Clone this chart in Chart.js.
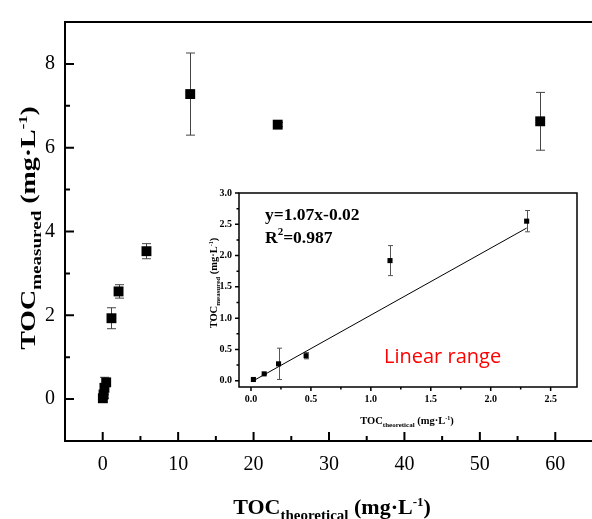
<!DOCTYPE html>
<html>
<head>
<meta charset="utf-8">
<script src="https://cdn.jsdelivr.net/npm/chart.js@4.4.1/dist/chart.umd.min.js"></script>
<style>
html,body{margin:0;padding:0;background:#fff;overflow:hidden;width:592px;height:519px;}
#wrap{position:relative;width:592px;height:519px;}
#main{position:absolute;left:0;top:0;}
#inset{position:absolute;left:200px;top:180px;}
</style>
</head>
<body>
<div id="wrap">
<canvas id="main" width="600" height="519"></canvas>
<canvas id="inset" width="392" height="255"></canvas>
</div>
<script>
var SERIF='"Liberation Serif","Times New Roman",serif';
// main plot
var mainX=[0.02,0.11,0.23,0.46,1.16,2.1,5.8,11.6,23.2,58];
var mainY=[0.02,0.11,0.27,0.40,1.93,2.57,3.53,7.28,6.55,6.63];
var mainErr=[0.01,0.01,0.25,0.05,0.25,0.16,0.18,0.98,0.05,0.69];
var mainXTicks=[0,10,20,30,40,50,60];
var mainYTicks=[0,2,4,6,8];
// inset (linear range)
var insetX=[0.02,0.11,0.23,0.46,1.16,2.3];
var insetY=[0.02,0.11,0.27,0.40,1.92,2.55];
var insetErr=[0.01,0.01,0.25,0.05,0.24,0.17];
var fitX=[0.02,2.3];
var fitY=[0.0,2.44];
var insetXTicks=[0,0.5,1.0,1.5,2.0,2.5];
var insetYTicks=[0,0.5,1.0,1.5,2.0,2.5,3.0];

function pts(xs,ys){
	var out=[];
	for(var i=0;i<xs.length;i++){out.push({x:xs[i],y:ys[i]});}
	return out;
}
function setTicks(list){
	return function(scale){scale.ticks=list.map(function(v){return {value:v};});};
}
function richText(ctx,parts,x,y){
	var w=0;
	parts.forEach(function(p){
		ctx.font='bold '+p.size+'px '+SERIF;
		p.w=ctx.measureText(p.t).width;
		w+=p.w;
	});
	var cx=x-w/2;
	ctx.textAlign='left';
	ctx.textBaseline='alphabetic';
	parts.forEach(function(p){
		ctx.font='bold '+p.size+'px '+SERIF;
		ctx.fillText(p.t,cx,y+(p.dy||0));
		cx+=p.w;
	});
}
function titleParts(sub,big,small,sup){
	return [
		{t:'TOC',size:big},
		{t:sub,size:small,dy:big*0.25},
		{t:' (mg\u00B7L',size:big},
		{t:'-1',size:sup,dy:-big*0.38},
		{t:')',size:big}
	];
}

// error bars + axes drawn through the chart scales
function errorPlugin(xs,ys,errs,cap,color){
	return {
		id:'errbars',
		beforeDatasetsDraw:function(chart){
			var ctx=chart.ctx,sx=chart.scales.x,sy=chart.scales.y;
			ctx.save();
			ctx.strokeStyle=color;
			ctx.lineWidth=1;
			for(var i=0;i<xs.length;i++){
				var px=Math.round(sx.getPixelForValue(xs[i]))+0.5;
				var top=sy.getPixelForValue(ys[i]+errs[i]);
				var bot=sy.getPixelForValue(ys[i]-errs[i]);
				ctx.beginPath();
				ctx.moveTo(px,top);ctx.lineTo(px,bot);
				ctx.moveTo(px-cap,top);ctx.lineTo(px+cap,top);
				ctx.moveTo(px-cap,bot);ctx.lineTo(px+cap,bot);
				ctx.stroke();
			}
			ctx.restore();
		}
	};
}

var mainFrame={
	id:'mainFrame',
	afterDraw:function(chart){
		var ctx=chart.ctx,a=chart.chartArea,sx=chart.scales.x,sy=chart.scales.y;
		ctx.save();
		ctx.strokeStyle='#000';
		ctx.lineWidth=2;
		ctx.strokeRect(a.left,a.top,a.right-a.left,a.bottom-a.top);
		ctx.beginPath();
		mainXTicks.forEach(function(v){
			var p=sx.getPixelForValue(v);
			ctx.moveTo(p,a.bottom);ctx.lineTo(p,a.bottom-9);
			var m=sx.getPixelForValue(v+5);
			if(m<a.right){ctx.moveTo(m,a.bottom);ctx.lineTo(m,a.bottom-5);}
		});
		mainYTicks.forEach(function(v){
			var p=sy.getPixelForValue(v);
			ctx.moveTo(a.left,p);ctx.lineTo(a.left+9,p);
			var m=sy.getPixelForValue(v+1);
			ctx.moveTo(a.left,m);ctx.lineTo(a.left+5,m);
		});
		ctx.stroke();
		ctx.fillStyle='#000';
		richText(ctx,titleParts('theoretical',22,15,13),332,514);
		ctx.translate(35,228);
		ctx.rotate(-Math.PI/2);
		ctx.scale(1.27,1);
		richText(ctx,titleParts('measured',22,15,13),0,0);
		ctx.restore();
	}
};

var insetFrame={
	id:'insetFrame',
	afterDraw:function(chart){
		var ctx=chart.ctx,a=chart.chartArea,sx=chart.scales.x,sy=chart.scales.y;
		ctx.save();
		ctx.strokeStyle='#000';
		ctx.lineWidth=1.5;
		ctx.strokeRect(a.left,a.top,a.right-a.left,a.bottom-a.top);
		ctx.beginPath();
		insetXTicks.forEach(function(v){
			var p=sx.getPixelForValue(v);
			ctx.moveTo(p,a.bottom);ctx.lineTo(p,a.bottom+4);
			var m=sx.getPixelForValue(v+0.25);
			if(m<a.right){ctx.moveTo(m,a.bottom);ctx.lineTo(m,a.bottom+2.5);}
		});
		insetYTicks.forEach(function(v){
			var p=sy.getPixelForValue(v);
			ctx.moveTo(a.left,p);ctx.lineTo(a.left-4,p);
			var m=sy.getPixelForValue(v+0.25);
			if(m>a.top){ctx.moveTo(a.left,m);ctx.lineTo(a.left-2.5,m);}
		});
		ctx.stroke();
		ctx.fillStyle='#000';
		ctx.textAlign='left';
		ctx.font='bold 17.5px '+SERIF;
		ctx.fillText('y=1.07x-0.02',65,40);
		ctx.fillText('R',65,63);
		var rw=ctx.measureText('R').width;
		ctx.font='bold 11px '+SERIF;
		ctx.fillText('2',65+rw,55);
		var tw=ctx.measureText('2').width;
		ctx.font='bold 17.5px '+SERIF;
		ctx.fillText('=0.987',65+rw+tw,63);
		ctx.fillStyle='#ff0000';
		ctx.font='20px "Open Sans","Liberation Sans",sans-serif';
		ctx.fillText('Linear range',184,183);
		ctx.fillStyle='#000';
		richText(ctx,titleParts('theoretical',10.5,7,6),207,244);
		ctx.translate(17,103);
		ctx.rotate(-Math.PI/2);
		richText(ctx,titleParts('measured',10.5,7,6),0,0);
		ctx.restore();
	}
};

new Chart("main",{
	type:"scatter",
	data:{datasets:[{
		data:pts(mainX,mainY),
		pointStyle:"rect",
		pointRadius:7,
		backgroundColor:"#000",
		borderWidth:0
	}]},
	options:{
		responsive:false,
		animation:false,
		layout:{padding:{top:15,right:4,left:0,bottom:0}},
		plugins:{legend:{display:false},tooltip:{enabled:false}},
		scales:{
			x:{type:"linear",min:-5,max:65,
				afterBuildTicks:setTicks(mainXTicks),
				afterFit:function(s){s.height=78;},
				grid:{display:false,drawTicks:false},
				border:{display:false},
				ticks:{padding:12,color:"#000",maxRotation:0,font:{family:SERIF,size:20}}
			},
			y:{type:"linear",min:-1,max:9,
				afterBuildTicks:setTicks(mainYTicks),
				afterFit:function(s){s.width=65;},
				grid:{display:false,drawTicks:false},
				border:{display:false},
				ticks:{padding:10,color:"#000",font:{family:SERIF,size:20}}
			}
		}
	},
	plugins:[errorPlugin(mainX,mainY,mainErr,4.5,"#444"),mainFrame]
});

new Chart("inset",{
	type:"scatter",
	data:{datasets:[{
		data:pts(insetX,insetY),
		pointStyle:"rect",
		pointRadius:3.6,
		backgroundColor:"#000",
		borderWidth:0
	},{
		type:"line",
		data:pts(fitX,fitY),
		borderColor:"#000",
		borderWidth:1,
		pointRadius:0,
		fill:false
	}]},
	options:{
		responsive:false,
		animation:false,
		layout:{padding:{top:11,right:15,left:0,bottom:0}},
		plugins:{legend:{display:false},tooltip:{enabled:false}},
		scales:{
			x:{type:"linear",min:-0.1,max:2.72,
				afterBuildTicks:setTicks(insetXTicks),
				afterFit:function(s){s.height=48;},
				grid:{display:false,drawTicks:false},
				border:{display:false},
				ticks:{padding:6,color:"#000",maxRotation:0,font:{family:SERIF,size:10,weight:"bold"},
					callback:function(v){return v.toFixed(1);}}
			},
			y:{type:"linear",min:-0.1,max:3.0,
				afterBuildTicks:setTicks(insetYTicks),
				afterFit:function(s){s.width=39;},
				grid:{display:false,drawTicks:false},
				border:{display:false},
				ticks:{padding:7,color:"#000",font:{family:SERIF,size:10,weight:"bold"},
					callback:function(v){return v.toFixed(1);}}
			}
		}
	},
	plugins:[errorPlugin(insetX,insetY,insetErr,2.5,"#555"),insetFrame]
});
</script>
</body>
</html>
